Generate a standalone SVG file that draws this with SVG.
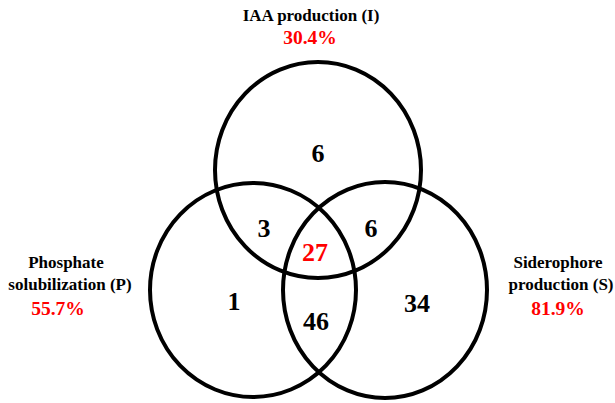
<svg xmlns="http://www.w3.org/2000/svg" width="615" height="403" viewBox="0 0 615 403">
<style>
.c{fill:none;stroke:#000;stroke-width:4}
.t{font-family:"Liberation Serif","Times New Roman",serif;font-weight:bold;text-anchor:middle}
.lab{font-size:17px;fill:#000}
.pct{font-size:19.5px;fill:#ff0000}
.n{font-size:26px;fill:#000}
.r{fill:#ff0000}
</style>
<rect width="615" height="403" fill="#fff"/>
<g id="sets">
<g id="set-I"><ellipse class="c" cx="318" cy="170" rx="103" ry="108"/></g>
<g id="set-P"><ellipse class="c" cx="253" cy="290" rx="103" ry="107"/></g>
<g id="set-S"><ellipse class="c" cx="385" cy="290" rx="102" ry="108"/></g>
</g>
<g id="labels" class="t">
<text class="lab" x="311" y="21">IAA production (I)</text>
<text class="pct" x="310" y="44">30.4%</text>
<text class="lab" x="66" y="268">Phosphate</text>
<text class="lab" x="70" y="290">solubilization (P)</text>
<text class="pct" x="58" y="315">55.7%</text>
<text class="lab" x="558" y="268">Siderophore</text>
<text class="lab" x="561" y="290">production (S)</text>
<text class="pct" x="558" y="315">81.9%</text>
</g>
<g id="counts" class="t">
<text class="n" x="318" y="162">6</text>
<text class="n" x="264" y="237">3</text>
<text class="n" x="371" y="237">6</text>
<text class="n r" x="315" y="261">27</text>
<text class="n" x="234" y="310">1</text>
<text class="n" x="316" y="330">46</text>
<text class="n" x="417" y="312">34</text>
</g>
</svg>
